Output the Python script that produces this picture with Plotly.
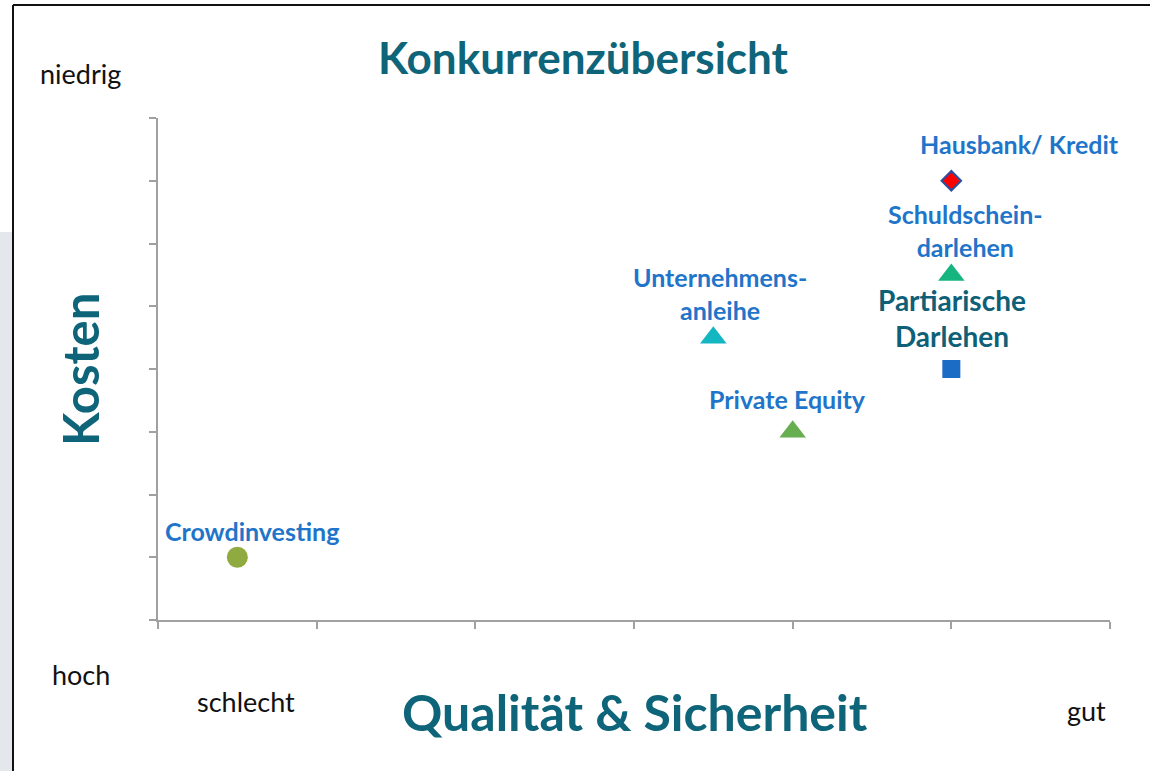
import plotly.graph_objects as go

names = ["Crowdinvesting", "Unternehmens-<br>anleihe", "Private Equity",
         "Partiarische<br>Darlehen", "Schuldschein-<br>darlehen", "Hausbank/ Kredit"]
quality = [0.5, 3.5, 4.0, 5.0, 5.0, 5.0]
cost = [1.0, 4.5, 3.0, 4.0, 5.5, 7.0]
symbols = ["circle", "triangle-up", "triangle-up", "square", "triangle-up", "diamond"]
colors = ["#8FAA3F", "#14B6C2", "#66AE4F", "#1A6CC4", "#16B57F", "#FF0000"]
msizes = [21, 23, 23, 18, 23, 15]
label_colors = ["#1F75C9", "#1F75C9", "#1F75C9", "#0D6077", "#1F75C9", "#1F75C9"]
label_sizes = [25, 25, 25, 28, 25, 25]
label_dx = [15, 7, -5, 1, 14, 68]
label_dy = [26, 44, 33, 51, 44, 37]

FONT = "Lato"
fig = go.Figure()
fig.add_trace(go.Scatter(
    x=quality, y=cost, mode="markers",
    marker=dict(symbol=symbols, color=colors, size=msizes, opacity=1,
                line=dict(color=["rgba(0,0,0,0)"] * 5 + ["#2A4FA0"], width=[0] * 5 + [2])),
    hoverinfo="skip", showlegend=False))

for n, xq, yc, c, s, dx, dy in zip(names, quality, cost, label_colors, label_sizes, label_dx, label_dy):
    fig.add_annotation(x=xq, y=yc, text=f"<b>{n}</b>", showarrow=False,
                       xshift=dx, yshift=dy, font=dict(family=FONT, size=s, color=c),
                       xanchor="center", yanchor="middle", align="center")

teal = "#0E6479"
fig.add_annotation(xref="paper", yref="paper", x=(583 - 158) / 952, y=(620 - 57) / 502,
                   text="<b>Konkurrenzübersicht</b>", showarrow=False,
                   font=dict(family=FONT, size=44, color=teal), xanchor="center", yanchor="middle")
fig.add_annotation(xref="paper", yref="paper", x=(80 - 158) / 952, y=(620 - 370) / 502,
                   text="<b>Kosten</b>", showarrow=False, textangle=-90,
                   font=dict(family=FONT, size=49, color=teal), xanchor="center", yanchor="middle")
fig.add_annotation(xref="paper", yref="paper", x=(635 - 158) / 952, y=(620 - 712) / 502,
                   text="<b>Qualität & Sicherheit</b>", showarrow=False,
                   font=dict(family=FONT, size=50, color=teal), xanchor="center", yanchor="middle")
for t, px, py in [("niedrig", 80, 73), ("hoch", 81, 674), ("schlecht", 246, 701), ("gut", 1086, 710)]:
    fig.add_annotation(xref="paper", yref="paper", x=(px - 158) / 952, y=(620 - py) / 502,
                       text=t, showarrow=False, font=dict(family=FONT, size=27, color="#111111"),
                       xanchor="center", yanchor="middle")

# frame and left strip
fig.add_shape(type="rect", xref="paper", yref="paper",
              x0=(0 - 158) / 952, x1=(12 - 158) / 952, y0=(620 - 771) / 502, y1=(620 - 232) / 502,
              fillcolor="#E4E8EC", line=dict(width=0), layer="below")
fig.add_shape(type="line", xref="paper", yref="paper",
              x0=(13 - 158) / 952, x1=(13 - 158) / 952, y0=(620 - 780) / 502, y1=(620 - 5) / 502,
              line=dict(color="#111111", width=2))
fig.add_shape(type="line", xref="paper", yref="paper",
              x0=(13 - 158) / 952, x1=(1160 - 158) / 952, y0=(620 - 5) / 502, y1=(620 - 5) / 502,
              line=dict(color="#111111", width=2))

axis_common = dict(showgrid=False, zeroline=False, showline=True, linecolor="#A0A0A0", linewidth=2,
                   ticks="outside", ticklen=7, tickwidth=2, tickcolor="#A0A0A0",
                   showticklabels=False, fixedrange=True)
fig.update_xaxes(range=[0, 6], dtick=1, **axis_common)
fig.update_yaxes(range=[0, 8], dtick=1, **axis_common)
fig.update_layout(width=1150, height=771, margin=dict(l=158, r=40, t=118, b=151),
                  plot_bgcolor="white", paper_bgcolor="white")
fig.write_html("out.html", config={"displayModeBar": False},
               post_script="document.body.style.margin='0';document.body.style.overflow='hidden';")
